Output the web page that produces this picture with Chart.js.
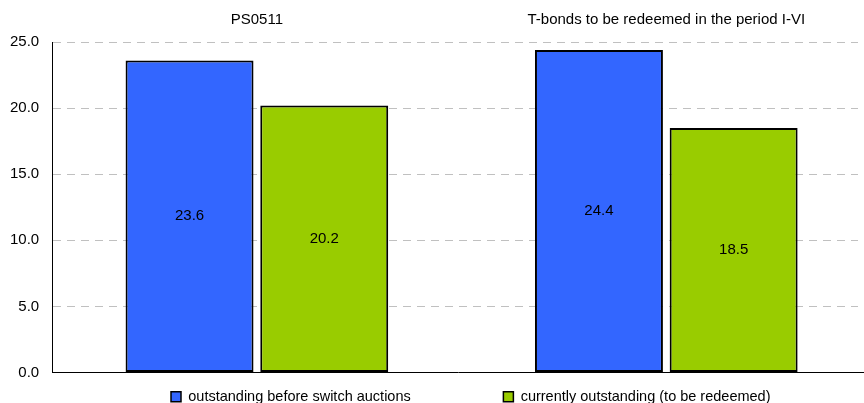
<!DOCTYPE html>
<html>
<head>
<meta charset="utf-8">
<script src="https://cdn.jsdelivr.net/npm/chart.js@4.4.1/dist/chart.umd.min.js"></script>
<style>
  html, body { margin: 0; padding: 0; background: #ffffff; }
  #wrap { width: 864px; height: 403px; }
</style>
</head>
<body>
<div id="wrap"><canvas id="chart" width="864" height="403"></canvas></div>
<script>
// Groups shown along the top of the plot
const categories = ['PS0511', 'T-bonds to be redeemed in the period I-VI'];

// Series values (PLN bn)
const beforeSwitch = [23.6, 24.4];
const currentlyOutstanding = [20.2, 18.5];

const seriesNames = ['outstanding before switch auctions', 'currently outstanding (to be redeemed)'];

// Y axis tick labels
const yTicks = ['0.0', '5.0', '10.0', '15.0', '20.0', '25.0'];

const FONT = '"Liberation Sans", Arial, sans-serif';

// Writes each bar's value in the middle of the bar
const midLabels = {
  id: 'midLabels',
  afterDatasetsDraw(chart) {
    const ctx = chart.ctx;
    ctx.save();
    ctx.font = '15px ' + FONT;
    ctx.fillStyle = '#000';
    ctx.textAlign = 'center';
    ctx.textBaseline = 'middle';
    chart.data.datasets.forEach((ds, i) => {
      chart.getDatasetMeta(i).data.forEach((bar, j) => {
        const y = (bar.y + bar.base) / 2;
        ctx.fillText(ds.data[j].toFixed(1), bar.x, y);
      });
    });
    ctx.restore();
  }
};

// Category axes run a little past the right edge of the canvas, while
// the dashed grid stops a few pixels short of it
const wideCategories = {
  id: 'wideCategories',
  afterLayout(chart) {
    ['x', 'x2'].forEach((id) => {
      const s = chart.scales[id];
      s.right += 7;
      s.width += 7;
      s.configure();
    });
    chart.chartArea.right -= 6;
    chart.chartArea.width -= 6;
  }
};

new Chart(document.getElementById('chart'), {
  type: 'bar',
  data: {
    labels: categories,
    datasets: [
      {
        label: seriesNames[0],
        data: beforeSwitch,
        backgroundColor: '#3366FF',
        borderColor: '#000000',
        borderWidth: 2,
        borderSkipped: false
      },
      {
        label: seriesNames[1],
        data: currentlyOutstanding,
        backgroundColor: '#99CC00',
        borderColor: '#000000',
        borderWidth: 2,
        borderSkipped: false
      }
    ]
  },
  options: {
    responsive: false,
    animation: false,
    devicePixelRatio: 1,
    layout: { padding: { left: -3, right: 0, top: -2, bottom: -11 } },
    datasets: {
      bar: { categoryPercentage: 0.658, barPercentage: 0.95 }
    },
    scales: {
      x: {
        position: 'bottom',
        grid: { display: false, drawTicks: false },
        border: { display: true, color: '#000', width: 1 },
        ticks: { display: false },
        afterFit: (axis) => { axis.height = 17; }
      },
      x2: {
        type: 'category',
        labels: categories,
        position: 'top',
        offset: true,
        grid: { display: false, drawTicks: false },
        border: { display: false },
        ticks: { color: '#000', font: { family: FONT, size: 15 }, padding: 13 }
      },
      y: {
        min: 0,
        max: 25,
        ticks: {
          stepSize: 5,
          color: '#000',
          padding: 13,
          font: { family: FONT, size: 15 },
          callback: (v) => yTicks[Math.round(v / 5)]
        },
        grid: {
          color: (c) => c.tick && c.tick.value === 0 ? 'rgba(0,0,0,0)' : '#C0C0C0',
          drawTicks: false
        },
        border: { display: true, color: '#000', width: 1, dash: [8, 6] }
      }
    },
    plugins: {
      legend: {
        position: 'bottom',
        fullSize: false,
        labels: {
          color: '#000',
          font: { family: FONT, size: 14.5 },
          boxWidth: 10,
          boxHeight: 10,
          padding: 0,
          generateLabels(chart) {
            // a blank lead-in entry nudges the key slightly right of centre
            const items = [{
              text: '  ',
              fillStyle: 'rgba(0,0,0,0)',
              strokeStyle: 'rgba(0,0,0,0)',
              lineWidth: 0,
              datasetIndex: -1
            }];
            chart.data.datasets.forEach((ds, i) => items.push({
              text: i === 0 ? ds.label + ' '.repeat(23) : ds.label,
              fillStyle: ds.backgroundColor,
              strokeStyle: '#000',
              lineWidth: 1.5,
              datasetIndex: i
            }));
            return items;
          }
        }
      },
      tooltip: { enabled: false }
    }
  },
  plugins: [wideCategories, midLabels]
});
</script>
</body>
</html>
